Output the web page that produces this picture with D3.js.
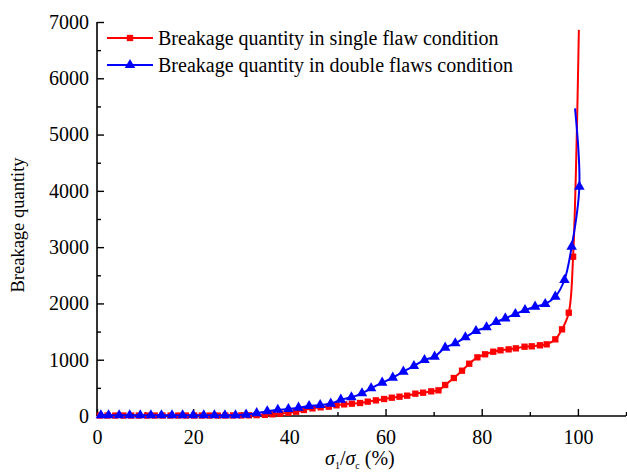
<!DOCTYPE html>
<html>
<head>
<meta charset="utf-8">
<script src="https://cdn.jsdelivr.net/npm/d3@7/dist/d3.min.js"></script>
<style>
  html, body { margin: 0; padding: 0; background: #fff; }
  svg { display: block; }
  text { font-family: "Liberation Serif", "Times New Roman", serif; fill: #000; }
</style>
</head>
<body>
<svg id="chart" width="627" height="473"></svg>
<script>
// Stress ratio σ1/σc (%) and breakage counts, single flaw specimen
const singleX = [0.6, 2.2, 3.8, 5.5, 7.1, 8.7, 10.4, 12.0, 13.6, 15.3, 16.9, 18.5, 20.2, 21.8, 23.4, 25.1,
  26.7, 28.3, 30.0, 31.6, 33.2, 34.9, 36.5, 38.1, 39.8, 41.4, 43.0, 44.8, 46.5, 48.2, 49.8, 51.4,
  53.0, 54.7, 56.3, 58.0, 59.7, 61.3, 62.9, 64.5, 66.2, 67.8, 69.5, 71.0, 72.4, 74.2, 75.9, 77.4,
  79.1, 80.7, 82.4, 83.9, 85.6, 87.1, 88.9, 90.4, 92.1, 93.5, 95.3, 96.7, 98.1, 99.0, 100.2];
const singleY = [8, 8, 8, 8, 8, 8, 8, 8, 8, 8, 8, 8, 8, 8, 8, 8,
  8, 10, 10, 12, 15, 20, 30, 42, 58, 76, 107, 136, 154, 166, 190, 207,
  219, 231, 255, 278, 302, 325, 343, 361, 397, 414, 438, 456, 551, 675, 805, 929,
  1042, 1096, 1142, 1167, 1184, 1202, 1231, 1238, 1256, 1273, 1362, 1540, 1835, 2830, 6860];

// Double flaws specimen
const doubleX = [0.8, 2.4, 4.6, 6.8, 9.0, 11.2, 13.4, 15.6, 17.8, 20.0, 22.2, 24.4, 26.6, 28.8,
  31.0, 33.2, 35.4, 37.6, 39.8, 41.9, 44.1, 46.4, 48.6, 50.7, 52.9, 55.1, 57.0, 59.3, 61.5,
  63.7, 65.9, 68.1, 70.2, 72.4, 74.5, 76.6, 78.8, 81.0, 83.0, 84.9, 87.0, 89.0, 91.1, 93.2,
  95.3, 97.2, 98.7, 100.3, 99.4];
const doubleY = [12, 12, 12, 12, 12, 12, 12, 12, 12, 12, 12, 12, 12, 14,
  25, 50, 85, 110, 125, 148, 178, 195, 219, 290, 332, 403, 492, 592, 681,
  787, 888, 995, 1054, 1214, 1291, 1398, 1510, 1576, 1670, 1735, 1812, 1883, 1942, 1990,
  2120, 2416, 3008, 4074, 5466];

const seriesNames = [
  "Breakage quantity in single flaw condition",
  "Breakage quantity in double flaws condition"
];
const xTicks = [0, 20, 40, 60, 80, 100];
const yTicks = [0, 1000, 2000, 3000, 4000, 5000, 6000, 7000];

const svg = d3.select("#chart");
const m = { left: 97, right: 626, top: 22, bottom: 416 };

const x = d3.scaleLinear().domain([0, 110]).range([m.left, m.right]);
const y = d3.scaleLinear().domain([0, 7000]).range([m.bottom, m.top]);

// Axes: ticks point inward, minor ticks halfway between labelled ones
const xAxis = d3.axisBottom(x).tickValues(d3.range(0, 111, 10))
  .tickSize(-7).tickSizeOuter(0)
  .tickFormat(d => xTicks.includes(d) ? d : "");
const gx = svg.append("g").attr("transform", `translate(0,${m.bottom})`).call(xAxis);
gx.selectAll(".tick line").attr("y2", d => xTicks.includes(d) ? -7 : -4);

const yAxis = d3.axisLeft(y).tickValues(d3.range(0, 7001, 500))
  .tickSize(-7).tickSizeOuter(0)
  .tickFormat(d => yTicks.includes(d) ? d : "");
const gy = svg.append("g").attr("transform", `translate(${m.left},0)`).call(yAxis);
gy.selectAll(".tick line").attr("x2", d => yTicks.includes(d) ? 7 : 4);

[gx, gy].forEach(g => {
  g.select(".domain").attr("stroke", "#000").attr("stroke-width", 1.6);
  g.selectAll(".tick line").attr("stroke", "#000").attr("stroke-width", 1.4);
  g.selectAll(".tick text").style("font-family", "'Liberation Serif', serif")
    .style("font-size", "20px").attr("fill", "#000");
});
gx.selectAll(".tick text").attr("y", 14);
gy.selectAll(".tick text").attr("x", -8);
gx.select(".domain").attr("d", `M${m.left},0H${m.right}`);
gy.select(".domain").attr("d", `M0,${m.bottom}V${m.top}`);

// Axis titles
svg.append("text")
  .attr("transform", `translate(24,${(m.top + m.bottom) / 2 + 6}) rotate(-90)`)
  .attr("text-anchor", "middle").style("font-size", "18.5px")
  .text("Breakage quantity");

const xt = svg.append("text").attr("x", 325).attr("y", 465).style("font-size", "20px");
xt.append("tspan").style("font-style", "italic").text("σ");
xt.append("tspan").attr("dy", 4).style("font-size", "10px").text("1");
xt.append("tspan").attr("dy", -4).text("/");
xt.append("tspan").style("font-style", "italic").text("σ");
xt.append("tspan").attr("dy", 4).style("font-size", "10px").text("c");
xt.append("tspan").attr("dy", -4).text(" (%)");

// Series
const series = [
  { name: seriesNames[0], xs: singleX, ys: singleY, color: "#ff0000", marker: d3.symbolSquare, size: 40 },
  { name: seriesNames[1], xs: doubleX, ys: doubleY, color: "#0000ff", marker: d3.symbolTriangle, size: 48 }
];

const line = d3.line().x(d => x(d[0])).y(d => y(d[1])).curve(d3.curveCatmullRom.alpha(0.5));

series.forEach(s => {
  const pts = s.xs.map((v, i) => [v, s.ys[i]]);
  svg.append("path").datum(pts)
    .attr("fill", "none").attr("stroke", s.color).attr("stroke-width", 2)
    .attr("d", line);
  // markers on every sample except the final one
  svg.append("g").selectAll("path").data(pts.slice(0, -1)).join("path")
    .attr("transform", d => `translate(${x(d[0])},${y(d[1])})`)
    .attr("d", d3.symbol().type(s.marker).size(s.size))
    .attr("fill", s.color);
});

// Legend
const lg = svg.append("g");
series.forEach((s, i) => {
  const cy = 38 + i * 27;
  lg.append("line").attr("x1", 107).attr("x2", 153).attr("y1", cy).attr("y2", cy)
    .attr("stroke", s.color).attr("stroke-width", 2);
  lg.append("path").attr("transform", `translate(130,${cy})`)
    .attr("d", d3.symbol().type(s.marker).size(s.size)).attr("fill", s.color);
  lg.append("text").attr("x", 158).attr("y", cy + 7).style("font-size", "20px").text(s.name);
});
</script>
</body>
</html>
